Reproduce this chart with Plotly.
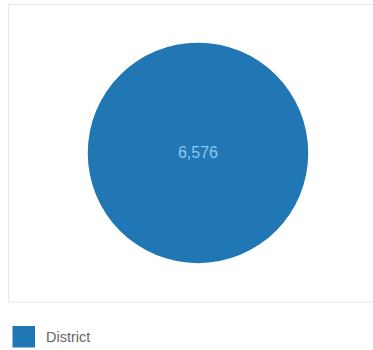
import plotly.graph_objects as go

categories = ["District"]
values = [6576]
colors = ["#2077b4"]

W, H = 373, 350

def px(x):
    return x / W

def py(y):
    return 1 - y / H

fig = go.Figure()
fig.add_trace(go.Pie(
    labels=categories,
    values=values,
    marker=dict(colors=colors, line=dict(width=0)),
    texttemplate="%{value:,}",
    textposition="inside",
    insidetextfont=dict(family="Liberation Sans, Arial", size=16, color="#8cc6f2"),
    sort=False,
    showlegend=False,
    hoverinfo="label+value",
    domain=dict(x=[px(87.5), px(308.5)], y=[py(263.2), py(42.7)]),
))

# outer chart frame (open on the right, runs past the window edge)
frame = dict(color="#e6e6e6", width=1)
fig.add_shape(type="line", xref="paper", yref="paper",
              x0=px(8.5), x1=px(W), y0=py(4.5), y1=py(4.5), line=frame, layer="below")
fig.add_shape(type="line", xref="paper", yref="paper",
              x0=px(8.5), x1=px(W), y0=py(302), y1=py(302), line=frame, layer="below")
fig.add_shape(type="line", xref="paper", yref="paper",
              x0=px(8.5), x1=px(8.5), y0=py(302), y1=py(4.5), line=frame, layer="below")

# legend swatch + label
fig.add_shape(type="rect", xref="paper", yref="paper",
              x0=px(12.5), x1=px(35), y0=py(347.5), y1=py(326),
              fillcolor=colors[0], line=dict(width=0))
fig.add_annotation(xref="paper", yref="paper", x=px(43.5), y=py(337),
                   xanchor="left", yanchor="middle", showarrow=False,
                   text=categories[0],
                   font=dict(family="Liberation Sans, Arial", size=14.5, color="#666666"))

fig.update_layout(
    width=W, height=H,
    margin=dict(l=0, r=0, t=0, b=0),
    paper_bgcolor="white",
    plot_bgcolor="white",
)

fig.write_html(
    "out.html",
    config={"displayModeBar": False},
    post_script="document.body.style.margin='0';document.body.style.overflow='hidden';",
)
